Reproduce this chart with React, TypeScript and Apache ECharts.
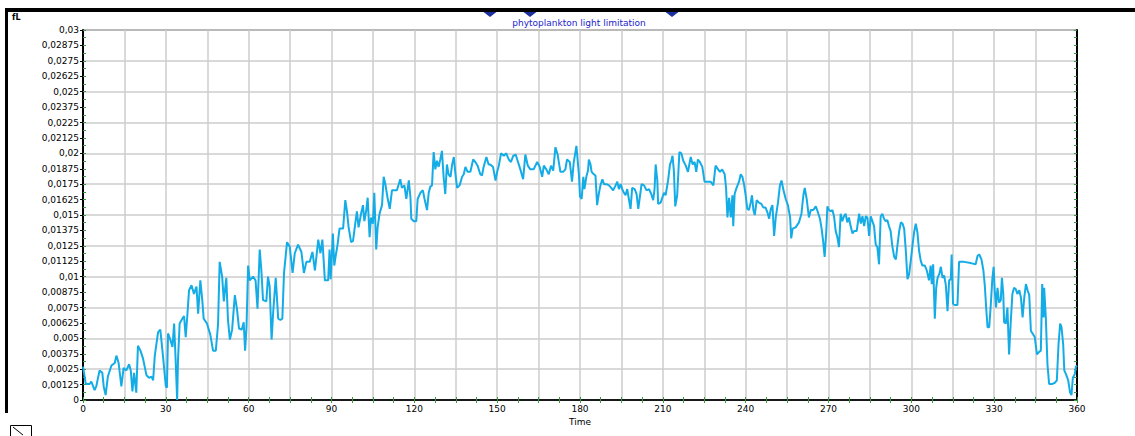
import { useEffect, useRef } from "react";
import * as echarts from "echarts";

const days = [
  0, 1, 2.4, 3, 4.2, 4.8, 6, 7, 7.5, 8.2, 9, 10.3, 11.5, 12.1, 12.9, 13.9, 14.7, 15.7, 16.7, 17.3,
  17.9, 18.5, 19.3, 19.9, 20.8, 21.7, 23, 23.9, 24.8, 25.4, 26, 27.2, 28, 29, 30, 30.4, 30.8, 31.6, 32.4, 33,
  33.5, 34.1, 34.4, 35, 36, 36.6, 37.2, 37.8, 38.4, 39.3, 40.2, 41.1, 41.7, 42.5, 43.2, 43.7, 44.9, 46.1, 47.1, 48.1,
  48.9, 49.5, 50.4, 51, 51.9, 52.5, 53.2, 54, 55, 55.8, 56.5, 57.5, 58.2, 58.7, 59.2, 59.8, 60.4, 61.6, 62.5, 63.2,
  64, 64.6, 65.2, 66.4, 67, 67.6, 68.3, 68.9, 69.8, 70.7, 71.5, 72.2, 72.8, 73.9, 74.9, 75.9, 76.7, 77.9, 79.1, 80,
  80.9, 82.1, 83.1, 84, 85.2, 86, 86.7, 87.6, 88.8, 89.3, 89.7, 90.5, 91.0, 91.6, 92.2, 92.9, 94.2, 95.0, 95.6, 96.2,
  97.1, 97.8, 98.6, 99.2, 99.8, 100.7, 101.4, 101.9, 102.6, 103.1, 103.8, 104.3, 105.0, 105.5, 106.2, 106.7, 107.4, 108.3, 108.9, 109.5,
  110.3, 111.1, 111.9, 112.8, 113.7, 114.9, 115.5, 116.4, 117.1, 118.0, 118.6, 118.9, 119.8, 120.7, 121.2, 122.2, 123.1, 123.7, 124.6, 125.2,
  125.8, 126.4, 127.0, 127.6, 128.2, 128.8, 129.4, 130.0, 130.6, 131.2, 131.8, 132.4, 133.1, 133.7, 134.3, 134.9, 135.5, 136.4, 137.3, 137.9,
  138.5, 139.3, 140.3, 141.3, 142.1, 142.9, 143.9, 144.5, 145.1, 146.1, 146.9, 147.5, 148.5, 149.4, 150.0, 150.6, 151.4, 152.4, 153.3, 154.2,
  155.0, 155.8, 156.7, 157.4, 158.4, 159.4, 160.2, 161.1, 162.0, 163.2, 164.5, 165.4, 166.3, 166.9, 167.8, 168.7, 169.5, 170.3, 171.1, 171.9,
  172.9, 173.9, 174.7, 175.3, 176.3, 177.1, 177.7, 178.7, 179.6, 180.0, 180.6, 181.2, 181.6, 182.3, 182.9, 183.2, 183.8, 184.2, 185.0, 185.6,
  186.2, 186.8, 187.4, 188.1, 188.7, 189.6, 190.5, 191.3, 192.0, 192.9, 193.5, 194.1, 194.7, 195.3, 195.9, 196.5, 197.1, 197.7, 198.3, 198.9,
  199.8, 200.5, 201.1, 201.7, 202.3, 203.2, 204.1, 205.0, 205.8, 206.5, 207.0, 207.4, 208.0, 208.3, 209.2, 209.8, 210.4, 211.0, 211.9, 212.6,
  213.1, 213.5, 214.0, 214.5, 215.2, 216.0, 216.7, 217.4, 218.3, 219.1, 220.1, 220.8, 221.5, 222.1, 222.7, 223.4, 224.3, 225.1, 226.1, 227.3,
  228.3, 229.1, 230.0, 230.7, 231.5, 232.4, 232.9, 233.4, 234.0, 234.6, 235.2, 235.5, 236.0, 236.7, 237.6, 238.2, 238.8, 239.4, 240.0, 240.6,
  241.2, 241.8, 242.3, 242.8, 243.3, 244.0, 244.8, 245.7, 246.4, 247.2, 247.9, 248.5, 249.1, 249.7, 250.3, 250.9, 251.7, 252.4, 253.0, 253.6,
  254.5, 255.3, 256.1, 256.5, 257.0, 258.1, 259.3, 260.2, 260.9, 261.4, 262.1, 262.9, 263.6, 264.5, 265.4, 266.2, 266.9, 267.5, 268.1, 268.6,
  269.2, 269.6, 270.2, 270.8, 271.4, 272.0, 272.6, 273.2, 273.8, 274.4, 275.0, 275.6, 276.2, 276.8, 277.4, 278.0, 278.7, 279.3, 280.2, 281.1,
  281.7, 282.3, 282.9, 283.5, 284.1, 284.7, 285.3, 285.9, 286.5, 287.1, 287.7, 288.3, 288.9, 289.5, 290.1, 290.7, 291.3, 291.9, 292.5, 293.1,
  293.8, 294.4, 295.0, 295.6, 296.2, 296.8, 297.4, 298.0, 298.6, 299.2, 299.8, 300.4, 301.0, 301.6, 302.2, 302.8, 303.4, 304.0, 304.9, 305.6,
  306.4, 307.0, 307.4, 307.9, 308.5, 309.0, 309.5, 310.1, 310.7, 311.3, 311.9, 312.5, 313.1, 313.7, 314.3, 314.6, 315.1, 315.7, 316.7, 317.3,
  319.1, 321.5, 323.3, 324.0, 324.6, 325.4, 326.1, 326.6, 327.1, 327.6, 328.2, 328.8, 329.3, 329.8, 330.2, 330.7, 331.2, 331.8, 332.4, 332.8,
  333.3, 333.6, 334.2, 334.8, 335.4, 336.0, 336.6, 337.2, 337.8, 338.4, 339.1, 339.7, 340.3, 340.9, 341.5, 342.1, 342.7, 343.3, 343.9, 344.7,
  345.5, 346.3, 346.9, 347.4, 347.9, 348.1, 348.7, 349.3, 349.9, 351.1, 352.0, 352.7, 353.3, 353.9, 354.4, 355.0, 355.4, 356.0, 356.8, 357.5,
  358.0, 358.5, 359.2, 359.6, 360,
];

const values = [
  0.0027, 0.0013, 0.0013, 0.0015, 0.0008, 0.0011, 0.0024, 0.0022, 0.0011, 0.0004, 0.0019, 0.0028, 0.003, 0.0036, 0.003, 0.0011, 0.0026, 0.0024, 0.0029, 0.0024,
  0.0007, 0.0022, 0.0006, 0.0044, 0.004, 0.0034, 0.002, 0.0018, 0.0019, 0.0016, 0.0036, 0.0055, 0.0057, 0.0035, 0.0011, 0.001, 0.0054, 0.0049, 0.0043, 0.0062,
  0.0035, 0.0, 0.0032, 0.0062, 0.0066, 0.0068, 0.0051, 0.0069, 0.0089, 0.0093, 0.0086, 0.0092, 0.007, 0.0097, 0.0081, 0.0066, 0.0062, 0.0053, 0.004, 0.004,
  0.0061, 0.0112, 0.01, 0.008, 0.0099, 0.0065, 0.0049, 0.0057, 0.0085, 0.0073, 0.0058, 0.0057, 0.0063, 0.004, 0.0058, 0.0109, 0.0097, 0.01, 0.0097, 0.0074,
  0.0122, 0.0105, 0.0081, 0.008, 0.01, 0.0092, 0.0049, 0.0072, 0.0099, 0.0066, 0.0065, 0.0066, 0.0103, 0.0128, 0.0124, 0.0103, 0.0119, 0.0126, 0.012, 0.0103,
  0.0112, 0.0112, 0.012, 0.0105, 0.013, 0.0119, 0.013, 0.0097, 0.0097, 0.0122, 0.0098, 0.0135, 0.0109, 0.0118, 0.0126, 0.0139, 0.0139, 0.0162, 0.0153, 0.014,
  0.0128, 0.0129, 0.0143, 0.0153, 0.014, 0.0151, 0.0158, 0.0145, 0.0154, 0.0164, 0.0132, 0.0148, 0.0143, 0.0168, 0.0122, 0.014, 0.0151, 0.0158, 0.0181, 0.0175,
  0.0164, 0.0155, 0.017, 0.017, 0.017, 0.0179, 0.0172, 0.0174, 0.0163, 0.0178, 0.0164, 0.0147, 0.0145, 0.0145, 0.0163, 0.0168, 0.017, 0.0163, 0.0154, 0.0168,
  0.0173, 0.0174, 0.0201, 0.0187, 0.0194, 0.0189, 0.0195, 0.0202, 0.0181, 0.0167, 0.0191, 0.0183, 0.0181, 0.0191, 0.0197, 0.0183, 0.0172, 0.0174, 0.0181, 0.0183,
  0.0189, 0.0185, 0.0185, 0.0195, 0.0193, 0.019, 0.0183, 0.0182, 0.0189, 0.0197, 0.0191, 0.0191, 0.0189, 0.0178, 0.0185, 0.019, 0.02, 0.0198, 0.02, 0.0195,
  0.0193, 0.0198, 0.0199, 0.0194, 0.0187, 0.0179, 0.0199, 0.019, 0.0187, 0.0187, 0.0193, 0.0189, 0.0181, 0.019, 0.0187, 0.0183, 0.019, 0.0186, 0.0205, 0.0199,
  0.0185, 0.0185, 0.0187, 0.0195, 0.0193, 0.0177, 0.0192, 0.0206, 0.0183, 0.0165, 0.0163, 0.0181, 0.0171, 0.0181, 0.0186, 0.0195, 0.0191, 0.0185, 0.0183, 0.0182,
  0.0158, 0.0167, 0.0174, 0.0179, 0.0175, 0.0175, 0.0174, 0.0172, 0.017, 0.0174, 0.0177, 0.0171, 0.0175, 0.0171, 0.0168, 0.0166, 0.0171, 0.0163, 0.0155, 0.0172,
  0.0171, 0.0167, 0.0155, 0.0165, 0.0175, 0.0174, 0.017, 0.0171, 0.0167, 0.0162, 0.0171, 0.0191, 0.0178, 0.0159, 0.016, 0.0164, 0.0168, 0.0166, 0.0178, 0.0191,
  0.0194, 0.0198, 0.0186, 0.0157, 0.0166, 0.0201, 0.02, 0.0194, 0.019, 0.0185, 0.0197, 0.0191, 0.0193, 0.0185, 0.0195, 0.0193, 0.0189, 0.0177, 0.0177, 0.0177,
  0.0174, 0.019, 0.0187, 0.0185, 0.0187, 0.0183, 0.0172, 0.0148, 0.0164, 0.0148, 0.0166, 0.0141, 0.0167, 0.0172, 0.0177, 0.0183, 0.0181, 0.0175, 0.0166, 0.0155,
  0.0154, 0.016, 0.0166, 0.0154, 0.015, 0.0162, 0.016, 0.0159, 0.0156, 0.0156, 0.0152, 0.0147, 0.0155, 0.0158, 0.0133, 0.0148, 0.016, 0.0174, 0.0178, 0.0171,
  0.0163, 0.0158, 0.0148, 0.0131, 0.0139, 0.014, 0.0144, 0.0151, 0.0166, 0.0172, 0.0163, 0.0148, 0.0154, 0.0154, 0.0157, 0.0152, 0.0147, 0.0139, 0.0128, 0.0116,
  0.0137, 0.0157, 0.0154, 0.0153, 0.0154, 0.0149, 0.0137, 0.0132, 0.0124, 0.0151, 0.0145, 0.0149, 0.0151, 0.0144, 0.0148, 0.0141, 0.0135, 0.0137, 0.0137, 0.0151,
  0.0143, 0.0149, 0.0141, 0.0149, 0.0148, 0.0133, 0.0149, 0.0145, 0.0141, 0.0126, 0.0124, 0.011, 0.0149, 0.0151, 0.0147, 0.0145, 0.0146, 0.0141, 0.0137, 0.0125,
  0.0116, 0.0114, 0.0126, 0.0137, 0.0144, 0.0143, 0.0139, 0.0121, 0.0098, 0.0102, 0.0113, 0.0125, 0.0136, 0.0143, 0.0136, 0.0121, 0.0113, 0.0109, 0.0109, 0.0105,
  0.0097, 0.0109, 0.0094, 0.011, 0.0066, 0.0091, 0.0099, 0.0102, 0.0108, 0.0099, 0.0101, 0.0093, 0.0072, 0.0097, 0.0098, 0.0118, 0.0078, 0.0077, 0.0077, 0.0112,
  0.0112, 0.0111, 0.011, 0.0117, 0.0118, 0.0114, 0.0105, 0.0093, 0.0075, 0.0059, 0.0059, 0.0078, 0.0097, 0.0108, 0.0089, 0.0075, 0.0091, 0.0079, 0.0081, 0.0099,
  0.0086, 0.0063, 0.0062, 0.0075, 0.0037, 0.0063, 0.0086, 0.0091, 0.009, 0.0086, 0.0089, 0.0083, 0.0067, 0.0083, 0.0094, 0.0089, 0.0085, 0.0056, 0.0054, 0.0051,
  0.0037, 0.0039, 0.004, 0.0094, 0.0067, 0.0091, 0.0067, 0.0029, 0.0013, 0.0013, 0.0014, 0.0016, 0.0045, 0.0062, 0.0059, 0.0045, 0.0024, 0.0021, 0.0016, 0.0006,
  0.0004, 0.0018, 0.0021, 0.0027, 0.0028,
];

const xTickLabels = ["0", "30", "60", "90", "120", "150", "180", "210", "240", "270", "300", "330", "360"];
const yTickLabels = [
  "0", "0,00125", "0,0025", "0,00375", "0,005", "0,00625", "0,0075", "0,00875", "0,01", "0,01125", "0,0125", "0,01375", "0,015",
  "0,01625", "0,0175", "0,01875", "0,02", "0,02125", "0,0225", "0,02375", "0,025", "0,02625", "0,0275", "0,02875", "0,03",
];
const seriesName = "phytoplankton light limitation";
const yName = "fL";
const xName = "Time";

const FONT = "DejaVu Sans";
const GREEN = "#3a9a3a";
const GRID = "#cdcdcd";

export default function App() {
  const ref = useRef<HTMLDivElement>(null);
  useEffect(() => {
    const chart = echarts.init(ref.current!, null, { renderer: "svg" });
    const data = days.map((d, i) => [d, values[i]]);
    const tri = (cx: number) => ({
      type: "polygon",
      shape: { points: [[cx - 6.5, 12], [cx + 6.5, 12], [cx, 17]] },
      style: { fill: "#1c2f9e" },
      z: 10,
    });
    chart.setOption({
      animation: false,
      backgroundColor: "#ffffff",
      grid: { left: 83, top: 30, width: 994, height: 370, show: true, borderColor: "#000", borderWidth: 1, containLabel: false },
      xAxis: [
        {
          type: "value",
          position: "bottom",
          min: 0,
          max: 360,
          interval: 30,
          axisLine: { show: true, lineStyle: { color: "#000", width: 2 } },
          axisTick: { show: true, inside: true, length: 3, lineStyle: { color: GREEN } },
          minorTick: { show: true, splitNumber: 4, length: 3, lineStyle: { color: GREEN } },
          axisLabel: {
            fontSize: 9, color: "#000", fontFamily: FONT, margin: 4,
            formatter: (v: number) => xTickLabels[Math.round(v / 30)] ?? "",
          },
          splitLine: { show: false },
          name: xName,
          nameLocation: "middle",
          nameGap: 10,
          nameTextStyle: { fontSize: 9, color: "#000", fontFamily: FONT },
        },
        {
          type: "value",
          position: "top",
          min: 0,
          max: 360,
          interval: 15,
          axisLine: { show: true, lineStyle: { color: "#222", width: 1.5 } },
          axisTick: { show: true, inside: true, length: 3, lineStyle: { color: GREEN } },
          minorTick: { show: true, splitNumber: 2, length: 3, lineStyle: { color: GREEN } },
          axisLabel: { show: false },
          splitLine: { show: true, lineStyle: { color: GRID, width: 1.5 } },
        },
      ],
      yAxis: [
        {
          type: "value",
          position: "left",
          min: 0,
          max: 0.03,
          interval: 0.00125,
          axisLine: { show: true, lineStyle: { color: "#000", width: 2 } },
          axisTick: { show: true, inside: false, length: 3, lineStyle: { color: "#000" } },
          axisLabel: {
            fontSize: 9, color: "#000", fontFamily: FONT, margin: 4,
            formatter: (v: number) => yTickLabels[Math.round(v / 0.00125)] ?? "",
          },
          splitLine: { show: false },
        },
        {
          type: "value",
          position: "left",
          min: 0,
          max: 0.03,
          interval: 0.00125,
          axisLine: { show: false },
          axisTick: { show: true, inside: true, length: 3, lineStyle: { color: GREEN } },
          minorTick: { show: true, splitNumber: 2, length: 3, lineStyle: { color: GREEN } },
          axisLabel: { show: false },
          splitLine: { show: false },
        },
        {
          type: "value",
          position: "right",
          min: 0,
          max: 0.03,
          interval: 0.0025,
          axisLine: { show: true, lineStyle: { color: "#000", width: 2 } },
          axisTick: { show: true, inside: true, length: 3, lineStyle: { color: GREEN } },
          minorTick: { show: true, splitNumber: 4, length: 3, lineStyle: { color: GREEN } },
          axisLabel: { show: false },
          splitLine: { show: true, lineStyle: { color: GRID, width: 1.5 } },
        },
      ],
      series: [
        {
          type: "line",
          name: seriesName,
          xAxisIndex: 0,
          yAxisIndex: 0,
          data,
          showSymbol: false,
          symbol: "none",
          lineStyle: { color: "#14ace6", width: 2 },
          z: 5,
        },
      ],
      graphic: [
        { type: "rect", shape: { x: 5, y: 8, width: 1130, height: 4 }, style: { fill: "#000" }, z: 20 },
        { type: "rect", shape: { x: 5, y: 8, width: 3, height: 405 }, style: { fill: "#000" }, z: 20 },
        tri(490),
        tri(530),
        tri(672),
        {
          type: "text",
          x: 579,
          y: 23,
          style: { text: seriesName, fill: "#2222cc", font: `9px "${FONT}"`, textAlign: "center", textVerticalAlign: "middle" },
          z: 20,
        },
        {
          type: "text",
          x: 12,
          y: 17,
          style: { text: yName, fill: "#000", font: `bold 8px "${FONT}"`, textAlign: "left", textVerticalAlign: "middle" },
          z: 20,
        },
        { type: "rect", shape: { x: 10.5, y: 425.5, width: 21, height: 12 }, style: { fill: "none", stroke: "#000", lineWidth: 1 }, z: 20 },
        { type: "line", shape: { x1: 13, y1: 427, x2: 23, y2: 435 }, style: { stroke: "#000", lineWidth: 1 }, z: 20 },
      ],
    });
    return () => chart.dispose();
  }, []);
  return <div ref={ref} style={{ position: "fixed", left: 0, top: 0, width: 1135, height: 436 }} />;
}
